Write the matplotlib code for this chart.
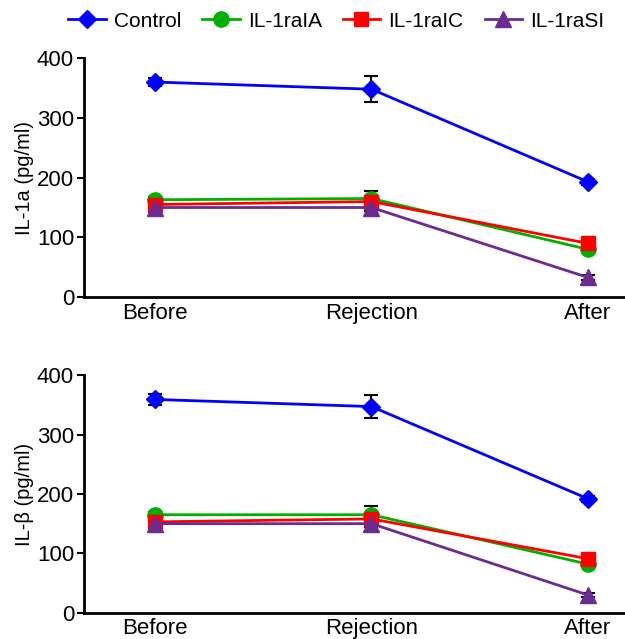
import matplotlib.pyplot as plt
from matplotlib.lines import Line2D

plt.rcParams["font.family"] = ["Liberation Sans", "DejaVu Sans"]

timepoints = ["Before", "Rejection", "After"]
groups = ["Control", "IL-1raIA", "IL-1raIC", "IL-1raSI"]
colors = ["#0000ff", "#00b000", "#ff0000", "#6a2c91"]
markers = ["D", "o", "s", "^"]
msizes = [9, 11, 10, 12]

il1a_mean = {
    "Control": [360, 348, 193],
    "IL-1raIA": [163, 165, 80],
    "IL-1raIC": [155, 160, 90],
    "IL-1raSI": [150, 150, 33],
}
il1a_err = {
    "Control": [6, 22, 5],
    "IL-1raIA": [4, 13, 4],
    "IL-1raIC": [4, 8, 4],
    "IL-1raSI": [3, 5, 4],
}
il1b_mean = {
    "Control": [359, 347, 192],
    "IL-1raIA": [165, 165, 82],
    "IL-1raIC": [153, 158, 91],
    "IL-1raSI": [150, 150, 30],
}
il1b_err = {
    "Control": [9, 20, 5],
    "IL-1raIA": [4, 14, 4],
    "IL-1raIC": [4, 8, 4],
    "IL-1raSI": [3, 5, 4],
}

fig = plt.figure(figsize=(6.25, 6.39), dpi=100)
ax1 = fig.add_axes([0.134, 0.535, 0.9, 0.374])
ax2 = fig.add_axes([0.134, 0.041, 0.9, 0.372])

x = list(range(len(timepoints)))


def draw_panel(ax, means, errs, ylabel):
    for g, c, m, ms in zip(groups, colors, markers, msizes):
        ax.errorbar(x, means[g], yerr=errs[g], fmt="none", ecolor="black",
                    elinewidth=1.5, capsize=5, capthick=1.5, zorder=2)
        ax.plot(x, means[g], color=c, marker=m, markersize=ms, linewidth=2,
                markeredgecolor=c, zorder=3)
    ax.set_xlim(-0.33, 2.27)
    ax.set_ylim(0, 400)
    ax.set_yticks([0, 100, 200, 300, 400])
    ax.set_xticks(x)
    ax.set_xticklabels(timepoints)
    ax.set_ylabel(ylabel, fontsize=14.5, labelpad=2)
    ax.tick_params(axis="both", labelsize=16, width=1.5, length=5, pad=2)
    ax.tick_params(axis="x", length=0, pad=4)
    for side in ["top", "right"]:
        ax.spines[side].set_visible(False)
    for side in ["left", "bottom"]:
        ax.spines[side].set_linewidth(2)


draw_panel(ax1, il1a_mean, il1a_err, "IL-1a (pg/ml)")
draw_panel(ax2, il1b_mean, il1b_err, "IL-β (pg/ml)")

handles = [Line2D([], [], color=c, marker=m, markersize=ms, linewidth=2)
           for c, m, ms in zip(colors, markers, msizes)]
fig.legend(handles, groups, loc="center", bbox_to_anchor=(0.538, 0.967),
           ncol=4, frameon=False, fontsize=15, handlelength=1.8,
           columnspacing=1.0, handletextpad=0.4, borderpad=0)

fig.savefig("out.png", dpi=100)
